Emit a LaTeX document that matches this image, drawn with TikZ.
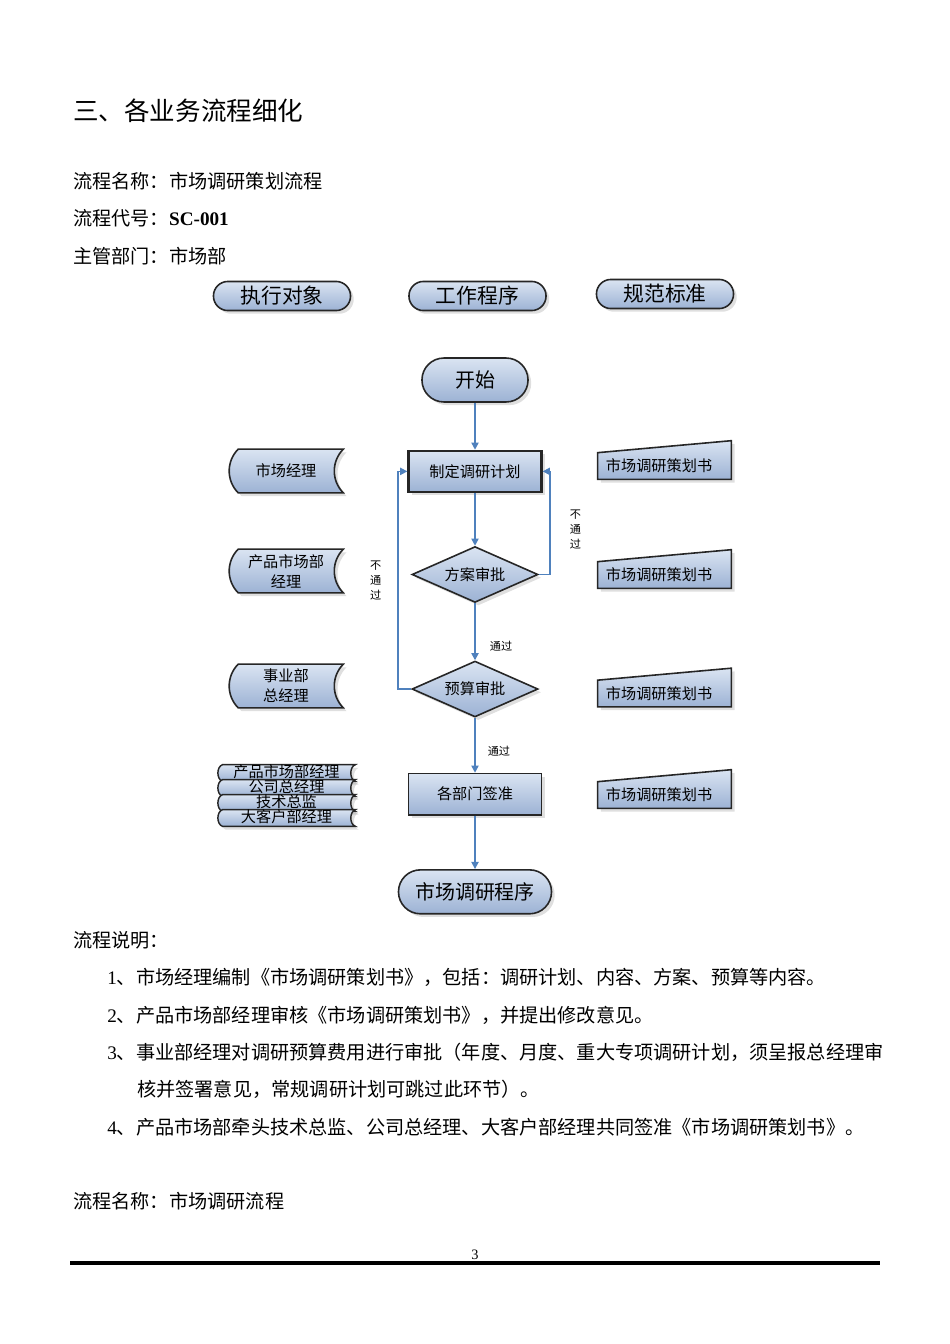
\documentclass[tikz,border=0pt]{standalone}
\usepackage{fontspec}
\setmainfont{Liberation Serif}
\newfontfamily\cjk{Noto Sans CJK SC}
\usetikzlibrary{positioning,shapes.geometric,shadows,arrows.meta,backgrounds}
\definecolor{shapetop}{RGB}{218,228,242}
\definecolor{shapebot}{RGB}{156,178,212}
\definecolor{flowline}{RGB}{79,129,189}

\begin{document}
\begin{tikzpicture}[x=0.626pt,y=-0.626pt,
		boxfill/.style={top color=shapetop,bottom color=shapebot,draw=black!85,line width=1pt,
			drop shadow={shadow xshift=2pt,shadow yshift=-2pt,opacity=0.25}},
		pill/.style={boxfill,rounded corners=9pt,minimum width=85.8pt,minimum height=18.2pt,inner sep=0pt,font=\cjk\fontsize{13}{15}\selectfont},
		term/.style={boxfill,rounded corners=13.7pt,minimum height=27.5pt,inner sep=0pt,font=\cjk\fontsize{12.5}{14}\selectfont},
		proc/.style={boxfill,line width=1.4pt,minimum width=83.3pt,minimum height=25.7pt,inner sep=0pt,font=\cjk\fontsize{9.5}{11}\selectfont},
		check/.style={boxfill,diamond,aspect=2.25,minimum width=78.9pt,minimum height=35pt,inner sep=0pt,font=\cjk\fontsize{9.5}{11}\selectfont},
		actor/.style={minimum width=71.4pt,minimum height=27pt,inner sep=0pt,align=center,font=\cjk\fontsize{9.5}{12.5}\selectfont},
		actorline/.style={boxfill},
		signer/.style={minimum width=85.8pt,minimum height=10pt,inner sep=0pt,text height=6pt,text depth=0pt,font=\cjk\fontsize{9.5}{11}\selectfont},
		doc/.style={text width=73.3pt,minimum height=16.3pt,inner xsep=5pt,inner ysep=0pt,align=left,font=\cjk\fontsize{9.5}{11}\selectfont},
		flow/.style={draw=flowline,line width=1pt,-{Triangle[width=4.5pt,length=4.5pt]}},
		note/.style={inner sep=0pt,align=center,font=\cjk\fontsize{7}{9.4}\selectfont},
		body/.style={anchor=west,inner sep=0pt,font=\cjk\fontsize{12}{14}\selectfont}]
		\useasboundingbox (0,0) rectangle (950,1344);

		% page text
		\node[body] (title) at (73,111) {\fontsize{16}{18}\selectfont 三、各业务流程细化};
		\node[body] (name) at (73,181) {流程名称：市场调研策划流程};
		\node[body] (code) at (73,218) {流程代号：{\rmfamily\bfseries SC-001}};
		\node[body] (dept) at (73,256) {主管部门：市场部};

		% column heads
		\node[pill] (who) at (282,296) {执行对象};
		\node[pill] (how) at (477.5,296) {工作程序};
		\node[pill] (rule) at (665,294) {规范标准};

		% main flow
		\node[term,minimum width=66.4pt] (start) at (475,380) {开始};
		\node[proc,node distance=29.4pt,below=of start] (plan) {制定调研计划};
		\node[check,node distance=33pt,below=of plan] (scheme) {方案审批};
		\node[check,node distance=35.7pt,below=of scheme] (budget) {预算审批};
		\node[proc,line width=1.1pt,node distance=34.4pt,below=of budget] (sign) {各部门签准};
		\node[term,minimum width=95.8pt,node distance=33.5pt,below=of sign] (research) {市场调研程序};

		\draw[flow] (start) -- (plan);
		\draw[flow] (plan) -- (scheme);
		\draw[flow] (scheme) -- node[note,pos=0.75,right=8.8pt] {通过} (budget);
		\draw[flow] (budget) -- node[note,pos=0.6,right=7.5pt] {通过} (sign);
		\draw[flow] (sign) -- (research);
		\draw[flow] (scheme.east) -- ++(11,0) |- node[note,pos=0.22,right=12pt] {不\\通\\过} (plan.east);
		\draw[flow] (budget.west) -- ++(-13,0) |- node[note,pos=0.25,left=10pt] {不\\通\\过} (plan.west);

		% who does it
		\node[actor] (mktmgr) at (286,471) {市场经理};
		\node[actor] (prodmgr) at (286,571) {产品市场部\\经理};
		\node[actor] (bizgm) at (286,686) {事业部\\总经理};
		\node[signer] (s1) at (286.5,773) {产品市场部经理};
		\node[signer] (s2) at (286.5,788) {公司总经理};
		\node[signer] (s3) at (286.5,803) {技术总监};
		\node[signer] (s4) at (286.5,818) {大客户部经理};

		% documents
		\node[doc] (doc1) at (664.5,466) {市场调研策划书};
		\node[doc] (doc2) at (664.5,575) {市场调研策划书};
		\node[doc] (doc3) at (664.5,693.5) {市场调研策划书};
		\node[doc] (doc4) at (664.5,795) {市场调研策划书};

		\begin{pgfonlayer}{background}
			\foreach \n in {mktmgr,prodmgr,bizgm}
				\draw[actorline] ([xshift=6pt]\n.north west) -- (\n.north east) to[bend right=45] (\n.south east)
					-- ([xshift=6pt]\n.south west) to[bend left=45] ([xshift=6pt]\n.north west) -- cycle;
			\foreach \n in {s1,s2,s3,s4}
				\draw[actorline,line width=0.9pt] ([xshift=3pt]\n.north west) -- (\n.north east) to[bend right=70] (\n.south east)
					-- ([xshift=3pt]\n.south west) to[bend left=70] ([xshift=3pt]\n.north west) -- cycle;
			\foreach \n in {doc1,doc2,doc3,doc4}
				\draw[actorline] (\n.south west) -- (\n.north west) -- ([yshift=7.5pt]\n.north east) -- (\n.south east) -- cycle;
		\end{pgfonlayer}

		% notes below
		\node[body] (desc) at (73,940) {流程说明：};
		\node[body] (item1) at (107,977) {{\rmfamily 1}、市场经理编制《市场调研策划书》，包括：调研计划、内容、方案、预算等内容。};
		\node[body] (item2) at (107,1015) {{\rmfamily 2}、产品市场部经理审核《市场调研策划书》，并提出修改意见。};
		\node[body] (item3) at (107,1052) {{\rmfamily 3}、事业部经理对调研预算费用进行审批（年度、月度、重大专项调研计划，须呈报总经理审};
		\node[body] (item3b) at (137,1089) {核并签署意见，常规调研计划可跳过此环节）。};
		\node[body] (item4) at (107,1127) {{\rmfamily 4}、产品市场部牵头技术总监、公司总经理、大客户部经理共同签准《市场调研策划书》。};
		\node[body] (next) at (73,1201) {流程名称：市场调研流程};

		\node[inner sep=0pt,font=\rmfamily\fontsize{9}{10}\selectfont] (pageno) at (475,1255) {3};
		\draw[line width=2pt] (70,1263) -- (880,1263);
	\end{tikzpicture}
\end{document}
